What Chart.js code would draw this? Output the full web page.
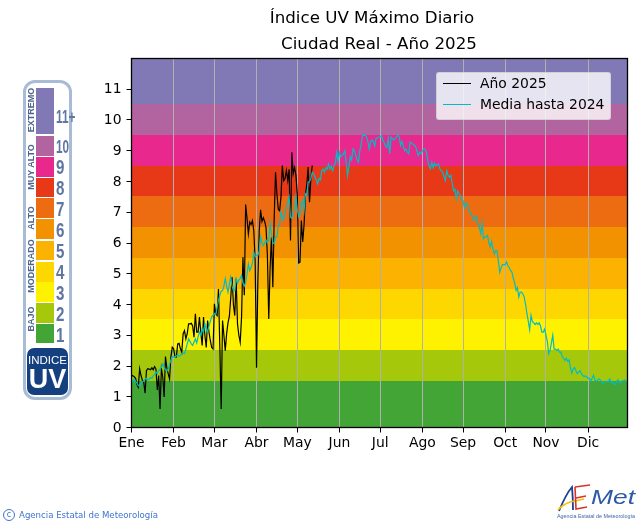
<!DOCTYPE html>
<html>
<head>
<meta charset="utf-8">
<title>Índice UV Máximo Diario</title>
<script src="https://cdn.jsdelivr.net/npm/chart.js@4"></script>
<style>
  html, body { margin: 0; padding: 0; background: #fff; }
  body { position: relative; width: 640px; height: 525px; overflow: hidden; font-family: "DejaVu Sans", sans-serif; }
  canvas { position: absolute; left: 0; top: 0; }
  .title { position: absolute; transform: translateX(-50%); white-space: nowrap; font-size: 16.67px; color: #000; }
  #legend { position: absolute; left: 436px; top: 72px; width: 173px; height: 46px; background: rgba(255,255,255,.8); border: 1px solid rgba(204,204,204,.8); border-radius: 3px; font-size: 13.9px; }
  #legend div { position: absolute; left: 43px; white-space: nowrap; color: #000; }
  #legend i { position: absolute; left: -37px; top: 8px; width: 28px; height: 1px; }
  #uv { position: absolute; left: 23px; top: 80px; width: 43px; height: 314px; border: 3px solid #a9bcd6; border-radius: 12px; background: #fff; }
  #uv b { position: absolute; left: 10px; width: 18px; }
  #uv span { position: absolute; color: #5f76a0; }
  #uv .num { left: 30px; font: bold 21px/21px "Liberation Sans Narrow", "Liberation Sans", sans-serif; transform: scaleX(.72); transform-origin: left; }
  #uv .grp { left: 5px; font: bold 9px "Liberation Sans", sans-serif; color: #4d6590; white-space: nowrap; transform: translate(-50%,-50%) rotate(-90deg); }
  #uvBox { position: absolute; left: 1px; top: 265px; width: 41px; height: 47px; background: #14407f; border-radius: 7px; color: #fff; text-align: center; font-family: "Liberation Sans", sans-serif; }
  #footer { position: absolute; left: 19px; top: 510px; font: 8.6px "DejaVu Sans", sans-serif; color: #3f74d0; white-space: nowrap; }
  #copy { position: absolute; left: 3px; top: 509px; width: 10px; height: 10px; border: 1px solid #3f74d0; border-radius: 50%; font: 8px/10px "DejaVu Sans", sans-serif; color: #3f74d0; text-align: center; }
</style>
</head>
<body>
<canvas id="uvChart" width="640" height="525"></canvas>

<div class="title" style="left:372px;top:8px">Índice UV Máximo Diario</div>
<div class="title" style="left:379px;top:34px">Ciudad Real - Año 2025</div>

<div id="legend"></div>

<div id="uv">
  <b style="top:5px;height:46px;background:#8079b5"></b>
  <b style="top:53px;height:20px;background:#b264a0"></b>
  <b style="top:74px;height:20px;background:#e8288c"></b>
  <b style="top:95px;height:19px;background:#e73817"></b>
  <b style="top:115px;height:20px;background:#ed6c11"></b>
  <b style="top:136px;height:20px;background:#f39200"></b>
  <b style="top:158px;height:19px;background:#fbb200"></b>
  <b style="top:179px;height:20px;background:#ffd700"></b>
  <b style="top:199px;height:20px;background:#fff200"></b>
  <b style="top:220px;height:20px;background:#a5c80a"></b>
  <b style="top:241px;height:19px;background:#43a535"></b>
  <span class="num" style="top:23px;font-size:19px;transform:scaleX(.62)">11+</span>
  <span class="num" style="top:53px;font-size:19px;transform:scaleX(.62)">10</span>
  <span class="num" style="top:73px">9</span>
  <span class="num" style="top:94px">8</span>
  <span class="num" style="top:115px">7</span>
  <span class="num" style="top:136px">6</span>
  <span class="num" style="top:157px">5</span>
  <span class="num" style="top:178px">4</span>
  <span class="num" style="top:199px">3</span>
  <span class="num" style="top:220px">2</span>
  <span class="num" style="top:241px">1</span>
  <span class="grp" style="top:27px">EXTREMO</span>
  <span class="grp" style="top:84px">MUY ALTO</span>
  <span class="grp" style="top:135px">ALTO</span>
  <span class="grp" style="top:183px">MODERADO</span>
  <span class="grp" style="top:236px">BAJO</span>
  <div id="uvBox">
    <div style="font-size:11.5px;line-height:12px;margin-top:6px">INDICE</div>
    <div style="font-size:27px;font-weight:bold;line-height:27px">UV</div>
  </div>
</div>

<div id="copy">c</div>
<div id="footer">Agencia Estatal de Meteorología</div>

<svg style="position:absolute;left:550px;top:480px" width="90" height="45" viewBox="0 0 90 45">
  <path d="M9 31 Q16 14 22 7 Q23 18 23 30" fill="none" stroke="#1c3f94" stroke-width="1.8"/>
  <path d="M8 30 Q12 25 20 22 L34 19" fill="none" stroke="#f5c400" stroke-width="1.6"/>
  <path d="M25 7 L40 5 M25 7 L26 29 L37 27 M26 18 L36 16" fill="none" stroke="#d8352a" stroke-width="1.6"/>
  <text x="41" y="24" font-family="Liberation Sans, sans-serif" font-style="italic" font-size="20" fill="#2c5aa8" textLength="44" lengthAdjust="spacingAndGlyphs">Met</text>
  <text x="7" y="38" font-family="Liberation Sans, sans-serif" font-size="5.4" fill="#3f66a8">Agencia Estatal de Meteorología</text>
</svg>

<script>
const months = ['Ene', 'Feb', 'Mar', 'Abr', 'May', 'Jun', 'Jul', 'Ago', 'Sep', 'Oct', 'Nov', 'Dic'];
const monthDays = [0, 31, 61, 92, 122, 153, 183, 214, 244, 275, 305, 336];
const uvTicks = [0, 1, 2, 3, 4, 5, 6, 7, 8, 9, 10, 11];
const bandEdges = [0, 1.5, 2.5, 3.5, 4.5, 5.5, 6.5, 7.5, 8.5, 9.5, 10.5, 12];
const bandColors = ['#43a535', '#a5c80a', '#fff200', '#ffd700', '#fbb200', '#f39200', '#ed6c11', '#e73817', '#e8288c', '#b264a0', '#8079b5'];

// valores leidos dia a dia del grafico
const year2025 = [
  1.7, 1.68, 1.65, 1.6, 1.4, 1.31, 1.91, 1.69, 1.53, 1.47,
  1.12, 1.85, 1.91, 1.9, 1.88, 1.94, 1.88, 1.98, 1.9, 1.22,
  1.69, 0.6, 1.91, 1.65, 0.99, 2.31, 1.94, 1.75, 1.58, 2.29,
  2.61, 2.56, 2.3, 2.29, 2.72, 2.74, 2.56, 2.45, 3.05, 3.15,
  2.88, 3.05, 3.37, 3.37, 3.39, 3.3, 2.94, 3.7, 3.1, 3.1,
  3.59, 3.1, 2.67, 3.59, 3.0, 2.6, 3.48, 3.1, 2.83, 2.6,
  2.55, 4.02, 3.7, 3.64, 4.5, 2.61, 0.6, 3.48, 3.0, 2.5,
  3.05, 3.4, 3.61, 4.2, 4.89, 4.0, 3.64, 4.84, 3.37, 3.0,
  2.77, 3.6, 5.54, 4.3, 7.25, 6.8, 6.3, 6.68, 6.6, 6.73,
  6.4, 5.4, 1.94, 4.8, 6.4, 7.08, 6.7, 6.82, 6.7, 6.5,
  5.6, 3.53, 5.2, 6.19, 4.56, 6.8, 8.3, 7.6, 7.1, 7.05,
  7.5, 8.52, 8.03, 8.1, 8.36, 8.03, 8.4, 6.08, 8.95, 8.25,
  8.45, 8.2, 7.6, 5.35, 5.38, 6.73, 6.03, 6.6, 7.55, 7.9,
  8.47, 7.33, 8.1, 8.52
];

const mediaHasta2024 = [
  1.55, 1.5, 1.58, 1.5, 1.45, 1.36, 1.38, 1.42, 1.48, 1.52,
  1.58, 1.6, 1.55, 1.58, 1.62, 1.6, 1.68, 1.72, 1.8, 1.75,
  1.85, 1.9, 1.95, 2.07, 1.95, 1.88, 1.83, 1.9, 2.05, 2.2,
  2.3, 2.3, 2.3, 2.33, 2.35, 2.32, 2.35, 2.38, 2.42, 2.4,
  2.55, 2.72, 2.88, 2.8, 2.72, 2.67, 2.78, 2.88, 2.75, 2.95,
  3.1, 3.0, 3.2, 3.1, 3.37, 3.2, 3.1, 3.3, 3.45, 3.6,
  3.65, 3.7, 3.68, 3.9, 4.13, 4.3, 4.43, 4.45, 4.6, 4.84,
  4.6, 4.4, 4.65, 4.89, 4.6, 4.45, 4.45, 4.84, 4.7, 4.8,
  4.85, 4.94, 4.7, 4.6, 4.72, 5.0, 5.32, 5.1, 5.2, 5.35,
  5.7, 5.55, 5.6, 5.6, 5.75, 6.2, 6.0, 5.92, 6.0, 6.1,
  6.0, 6.1, 6.65, 6.3, 6.0, 5.98, 6.2, 6.2, 6.55, 6.6,
  7.0, 6.85, 6.75, 7.0, 7.2, 7.3, 7.5, 6.84, 6.8, 6.95,
  7.1, 7.5, 7.1, 6.85, 6.95, 7.3, 7.4, 7.05, 7.6, 7.55,
  7.98, 8.0, 8.1, 8.3, 8.25, 8.15, 8.05, 7.92, 8.1, 8.05,
  8.35, 8.4, 8.3, 8.45, 8.4, 8.57, 8.4, 8.5, 8.35, 8.5,
  8.6, 8.95, 8.65, 8.95, 8.8, 8.85, 8.9, 9.0, 8.6, 8.19,
  8.5, 8.8, 8.7, 9.06, 9.0, 8.85, 8.7, 8.63, 9.0, 9.2,
  9.5, 9.5, 9.5, 9.45, 9.3, 9.06, 9.3, 9.35, 9.3, 9.15,
  9.4, 9.4, 9.45, 9.45, 9.5, 9.35, 9.25, 9.15, 9.11, 9.4,
  8.9, 9.44, 9.4, 9.35, 9.4, 9.45, 9.5, 9.45, 9.17, 9.3,
  9.15, 9.0, 9.05, 8.95, 8.9, 9.28, 9.25, 9.22, 9.18, 9.15,
  9.0, 8.84, 8.95, 8.9, 9.0, 9.05, 9.06, 8.95, 8.7, 8.5,
  8.41, 8.62, 8.45, 8.6, 8.5, 8.55, 8.57, 8.4, 8.35, 8.3,
  8.15, 8.03, 8.35, 8.2, 8.14, 8.2, 7.95, 7.7, 7.75, 7.43,
  7.7, 7.6, 7.55, 7.4, 7.38, 7.15, 7.3, 7.3, 7.1, 7.0,
  6.95, 6.85, 6.73, 6.85, 6.85, 6.6, 6.5, 6.3, 6.65, 6.14,
  6.2, 6.2, 6.25, 6.0, 5.87, 6.05, 5.8, 5.65, 5.75, 5.75,
  5.4, 5.05, 5.2, 5.3, 5.3, 5.3, 5.38, 5.25, 5.2, 5.1,
  5.05, 4.84, 4.7, 4.46, 4.55, 4.24, 4.4, 4.4, 4.35, 4.24,
  4.0, 3.7, 3.45, 3.18, 3.65, 3.45, 3.4, 3.35, 3.4, 3.35,
  3.4, 3.3, 3.1, 3.1, 3.2, 3.0, 2.8, 2.4, 2.5, 2.75,
  3.0, 2.55, 2.55, 2.5, 2.55, 2.45, 2.45, 2.3, 2.25, 2.18,
  2.25, 2.15, 2.2, 1.95, 1.77, 1.9, 1.95, 1.85, 1.75, 1.8,
  1.85, 1.75, 1.7, 1.66, 1.68, 1.65, 1.6, 1.6, 1.51, 1.6,
  1.7, 1.55, 1.5, 1.55, 1.58, 1.55, 1.48, 1.45, 1.48, 1.5,
  1.5, 1.5, 1.58, 1.45, 1.5, 1.42, 1.4, 1.5, 1.55, 1.48,
  1.45, 1.52, 1.52, 1.55, 1.5
];

const series = [
  { label: 'Año 2025', values: year2025, color: '#000000', order: 2 },
  { label: 'Media hasta 2024', values: mediaHasta2024, color: '#00bcc6', order: 1 }
];

// franjas de color del fondo, por debajo de la rejilla
const uvBands = {
  id: 'uvBands',
  beforeDraw(chart) {
    const { ctx, chartArea: a, scales: { y } } = chart;
    ctx.save();
    bandColors.forEach((color, i) => {
      const top = Math.floor(y.getPixelForValue(bandEdges[i + 1]));
      const bottom = Math.floor(y.getPixelForValue(bandEdges[i]));
      ctx.fillStyle = color;
      ctx.fillRect(a.left, top, a.right - a.left, bottom - top);
    });
    ctx.restore();
  }
};

const frame = {
  id: 'frame',
  afterDraw(chart) {
    const { ctx, chartArea: a } = chart;
    ctx.save();
    ctx.strokeStyle = '#000';
    ctx.lineWidth = 1.3;
    ctx.strokeRect(a.left, a.top, a.right - a.left, a.bottom - a.top);
    ctx.restore();
  }
};

const tickFont = { family: 'DejaVu Sans', size: 13.9 };

new Chart(document.getElementById('uvChart'), {
  type: 'line',
  data: {
    datasets: series.map(s => ({
      label: s.label,
      data: s.values.map((v, i) => ({ x: i, y: v })),
      borderColor: s.color,
      borderWidth: 1.2,
      pointRadius: 0,
      tension: 0,
      order: s.order
    }))
  },
  plugins: [uvBands, frame],
  options: {
    responsive: false,
    animation: false,
    layout: { padding: { top: 58.5, right: 12.5, left: 0, bottom: 0 } },
    plugins: { legend: { display: false }, title: { display: false }, tooltip: { enabled: false } },
    scales: {
      x: {
        type: 'linear',
        min: 0,
        max: 365,
        afterBuildTicks(scale) { scale.ticks = monthDays.map(v => ({ value: v })); },
        afterFit(scale) { scale.height = 97.5; },
        grid: { color: '#b0b0b0', lineWidth: 1, tickColor: '#000', tickLength: 5 },
        border: { color: '#000' },
        ticks: {
          font: tickFont,
          color: '#000',
          padding: 3,
          autoSkip: false,
          maxRotation: 0,
          callback: v => months[monthDays.indexOf(v)]
        }
      },
      y: {
        min: 0,
        max: 12,
        afterBuildTicks(scale) { scale.ticks = uvTicks.map(v => ({ value: v })); },
        afterFit(scale) { scale.width = 131.5; },
        grid: { drawOnChartArea: false, tickColor: '#000', tickLength: 5 },
        border: { color: '#000' },
        ticks: { font: tickFont, color: '#000', padding: 5, labelOffset: 0.5 }
      }
    }
  }
});

// leyenda encima del grafico, deja ver la rejilla como la original
const legend = document.getElementById('legend');
series.forEach((s, i) => {
  const row = document.createElement('div');
  row.style.top = (2 + i * 21) + 'px';
  row.textContent = s.label;
  const swatch = document.createElement('i');
  swatch.style.background = s.color;
  row.appendChild(swatch);
  legend.appendChild(row);
});
</script>
</body>
</html>
